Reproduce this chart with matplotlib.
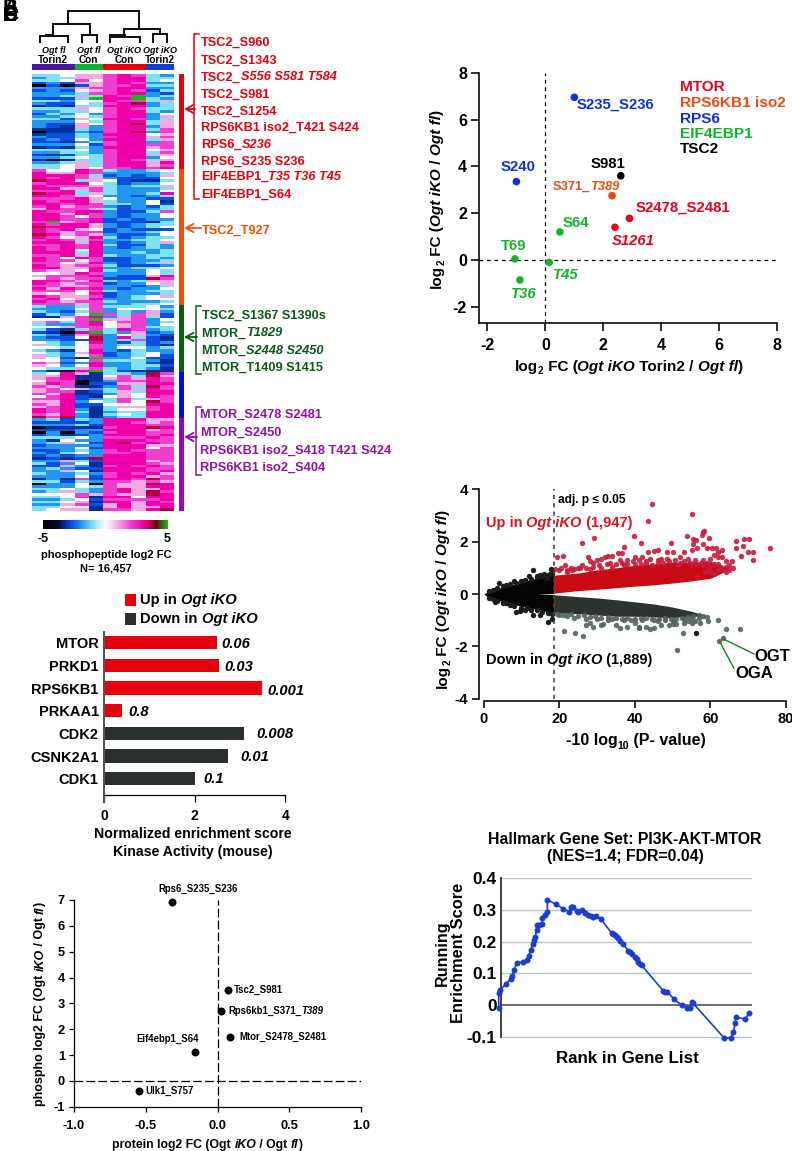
import re
import numpy as np
import matplotlib
matplotlib.use('Agg')
import matplotlib.pyplot as plt
from matplotlib.colors import LinearSegmentedColormap
from matplotlib.patches import Rectangle

plt.rcParams['font.family'] = ['Liberation Sans', 'DejaVu Sans']
plt.rcParams['font.weight'] = 'bold'
plt.rcParams['axes.labelweight'] = 'bold'
plt.rcParams['axes.unicode_minus'] = False

W, H = 792, 1151

# ---------- heatmap (row strings, one digit per sample, decoded through digit_values; G = +5) ----------
digit_values = [-5, -3.2, -2.7, -1.9, -1, 0, 1, 2, 3, 3.7]
heat_red = """4456678743 3446678844 4457578845 2326678733 0202677844 3336778833 2325678724 3334778832 3346487G34
2224G88G43 4435587746 3225478934 1214488834 4446578744 3344578843 2435378835 3345478836 4426588734
3335478846 3226578946 3216378836 1114378847 0113278937 1224388856 3224378867 2325388846 2213478837
3335278877 1214388867 4445378856 3344378847 2124478866 3345478835 1014478746 3346478868 4456478867
4456577878""".split()
heat_orange = """7558743345 8668733334 8887423236 8787632225 9884652114 7888542335 8777643446 8866743334 7784743335
9884643348 8876533234 7778653322 8788643351 8878744352 7867732324 6877642334 8778832247 8868732335
8875732335 8877823233 7G67822214 8788632344 9888632345 8786523222 8767723345 9867632235 8756842344
7874733445 8886832346 7787842243 8787832343 8785833334 8884833434 7786843344 8758722343 8775722334
7756832346 8767742223 8866833445 7665843354 5568733354 6777832268 5767722297 8876843466 8767723356
7766733234 8687832335 7775743344 6565823334 8766723456 7856833455 8767743334 7776733445""".split()
heat_green = """4334744453 3335735554 4324734363 2435G74762 1167836742 5557G66735 6747857734 4337856735 5567756744
4214748734 2108G43623 4316835632 3225938421 3322934721 5435832423 6435734421 5545735534 4315832433
5436823453 6435723452 6521G33522 5535744431 7623833421 6535833442 5446743431 3108G42111""".split()
heat_blue = """4586144397 6681157496 6781167687 5770137787 6870226688 7671137497 6756347687 6771246488 7681136588
5782156587 7782347467 6683547597 7682255588 6782146678 8783145578 8784134488 7683145488 9793134488""".split()
heat_purple = """3424388866 2222388767 3334288877 0111178898 2223388867 0303278877 2312388878 4445377787 3153388877
3465289787 2333388866 3335288857 2234378777 3245377877 2323388877 1212988877 3364288867 4235188876
2263178787 3432288877 3365188878 4334378786 3335278867 1317288797 4424377676 0335076698 3335476688
4454378668 3464378697 5557676698 4457188588 3345277778 4456188687 3367268688 4455168668 4566177689""".split()
heat_rows = heat_red + heat_orange + heat_green + heat_blue + heat_purple
cluster_sizes = [len(heat_red), len(heat_orange), len(heat_green), len(heat_blue), len(heat_purple)]
cluster_colors = ['#e8000c', '#f05008', '#0a6010', '#0808e0', '#9a08b0']

sample_groups = [('*Ogt fl*', 'Torin2', 3, '#4a1a9e'), ('*Ogt fl*', 'Con', 2, '#10b030'),
                 ('*Ogt iKO*', 'Con', 3, '#e8000c'), ('*Ogt iKO*', 'Torin2', 2, '#1040d0')]

red_labels = ['TSC2_S960', 'TSC2_S1343', 'TSC2_*S556 S581 T584*', 'TSC2_S981', 'TSC2_S1254',
              'RPS6KB1 iso2_T421 S424', 'RPS6_*S236*', 'RPS6_S235 S236', 'EIF4EBP1_*T35 T36 T45*', 'EIF4EBP1_S64']
green_labels = ['TSC2_S1367 S1390s', 'MTOR_*T1829*', 'MTOR_*S2448 S2450*', 'MTOR_T1409 S1415']
purple_labels = ['MTOR_S2478 S2481', 'MTOR_S2450', 'RPS6KB1 iso2_S418 T421 S424', 'RPS6KB1 iso2_S404']

# ---------- phospho scatter ----------
fc_labels = ['S235_S236', 'S240', 'S981', 'S371_*T389*', 'S2478_S2481', '*S1261*', 'S64', 'T69', '*T45*', '*T36*']
fc_torin = [1.0, -1.0, 2.6, 2.3, 2.9, 2.4, 0.5, -1.05, 0.13, -0.88]
fc_ctrl = [6.95, 3.35, 3.6, 2.75, 1.78, 1.4, 1.2, 0.05, -0.1, -0.85]
fc_groups = ['RPS6', 'RPS6', 'TSC2', 'RPS6KB1 iso2', 'MTOR', 'MTOR', 'EIF4EBP1', 'EIF4EBP1', 'EIF4EBP1', 'EIF4EBP1']
group_colors = {'MTOR': '#e8001c', 'RPS6KB1 iso2': '#f04a10', 'RPS6': '#1030e0', 'EIF4EBP1': '#10b428', 'TSC2': '#000000'}

# ---------- volcano ----------
ns_x = [0, 1, 3, 5, 8, 11, 14, 16, 18.5]
ns_up = [0.0, .08, .18, .26, .38, .5, .6, .68, .75]
ns_lo = [0.0, -.1, -.2, -.28, -.4, -.5, -.58, -.65, -.72]
up_x = [18.5, 25, 30, 35, 40, 45, 50, 55, 60, 63, 65]
up_hi = [.72, .8, .92, 1.0, 1.1, 1.15, 1.22, 1.22, 1.25, 1.1, .95]
up_lo = [.03, .13, .18, .24, .3, .35, .42, .5, .6, .8, .93]
dn_x = [18.5, 25, 30, 35, 40, 45, 50, 55, 58]
dn_hi = [-.03, -.1, -.15, -.22, -.3, -.38, -.5, -.66, -.8]
dn_lo = [-.72, -.75, -.8, -.85, -.85, -.88, -.9, -.85, -.84]
up_pts = [(44.6,3.45),(55,3.07),(43.4,2.8),(29.2,2.13),(25.9,1.94),(39.8,2.2),(41.5,1.94),(53.9,2.2),(55.5,2.1),
          (56.2,2.05),(55.5,1.9),(58.2,2.4),(58,2.35),(57.8,2.25),(59.5,2.15),(66.9,2.03),(69,2.12),(70.3,2.12),
          (68.5,1.85),(66.9,1.75),(75.8,1.76),(71.3,1.62),(71.2,1.3),(70,1.6),(68,1.45),(65.8,1.25),(65,1.1),
          (62,1.6),(63,1.7),(61.5,1.75),(60.5,1.75),(59,1.75),(58,1.9),(56.5,1.75),(55,1.7),(53,1.6),(50,1.6),
          (49.5,1.95),(48.5,1.6),(46,1.7),(45,1.65),(43.5,1.6),(37,1.8),(36.5,1.55),(35.5,1.55),(34,1.45),(33,1.45),
          (32,1.4),(31,1.35),(30,1.3),(27.5,1.42),(26,1.1),(25,1.0),(21,1.45),(19.5,1.42),(21.5,1.1),(23,1.0),
          (24,.95),(28,1.25),(29,1.2),(36,1.3),(38,1.3),(40,1.4),(41,1.3),(42,1.4),(44,1.35),(47,1.35),(52,1.4),
          (54,1.35),(56,1.3),(58,1.3),(60,1.35),(61,1.5),(62,1.4),(63,1.4),(64,1.25),(62,1.15),(60,1.1),(58,1.1),
          (55,1.15),(52,1.2),(49,1.25),(46,1.2),(43,1.2),(40,1.15),(37,1.1),(34,1.05),(31,1.0),(28,.95),(62,.9),
          (64,.85),(66,1.0),(60,.85),(20,.9),(22,.85),
          (19,.95),(20.5,1.0),(22,.92),(23.5,.9),(25.5,.98),(27,1.0),(29,1.02),(30.5,1.1),(32.5,1.15),(33.5,1.2),(35,1.15),
          (36.5,1.2),(38,1.15),(39.5,1.25),(41.5,1.15),(43,1.25),(44.5,1.1),(46,1.3),(47.5,1.2),(48.5,1.35),(50.5,1.3),
          (51.5,1.1),(53,1.25),(54.5,1.2),(56,1.15),(57.5,1.2),(59,1.2),(61,1.15),(62.5,1.05),(63.5,.95),(64,1.05),(65,.9),
          (59.5,.95),(61,.75),(58.5,.85),(56.5,.7)]
dn_pts = [(21.2,-1.42),(24.1,-1.48),(26.2,-1.6),(51.1,-2.14),(67.7,-1.35),(64.2,-1.35),(62,-1.0),(63.2,-1.7),(62.3,-1.78),
          (52.7,-1.48),(59,-.87),(59.4,-1.02),(57.2,-1.1),(28,-1.1),(27,-1.2),(29,-1.25),(31,-1.2),(31.5,-1.15),(33,-1.0),
          (35,-1.2),(36,-1.3),(38,-1.25),(40,-1.1),(41,-1.25),(41,-1.3),(43,-1.25),(44,-1.35),(45,-1.3),(46,-1.05),(47,-1.2),
          (49,-1.2),(50,-1.15),(51,-1.15),(53,-1.1),(54,-1.05),(55,-1.1),(56,-1.05),(55,-.95),(57,-.9),(58,-.85),(53,-.95),
          (50,-1.05),(48,-1.0),(45,-1),(42,-1),(39,-1),(37,-1),(34,-.95),(30,-.95),(27,-.95),(24,-.9),(22,-.85),(20,-.8),
          (19.5,-.78),(21,-.82),(23,-.78),(25,-.85),(26.5,-.82),(28,-.88),(29.5,-.85),(31,-.9),(33,-.88),(35,-.92),(36.5,-.95),
          (38,-.9),(40,-.95),(41.5,-.92),(43,-.92),(44.5,-.95),(46.5,-.95),(48,-.9),(49.5,-.95),(51,-.95),(52.5,-.9),(54,-.88),
          (55.5,-.85),(57,-.8)]
ns_pts = [(56.3,-1.48),(13,.9),(4,.42),(8,.5),(12,.68),(15,.72),(17.8,.95),(18,.85),(17.5,.75),(16.8,.62),(17,-1.07),(18,-.95),
          (8.5,-.7),(9.5,-.65),(13,-.8),(15,-.8),(3,-.3),(5,-.35),(11,-.6),(14,.7),(16,.78),
          (1.5,.12),(2.5,.17),(3.5,.24),(5,.3),(6,.33),(7,.38),(8.5,.42),(10,.5),(11,.55),(12.5,.58),(14,.65),(15.5,.68),(17,.72),(18,.78),
          (1.5,-.14),(2.5,-.2),(3.5,-.26),(5,-.32),(6,-.36),(7,-.42),(8,-.45),(10,-.52),(11.5,-.55),(12.5,-.6),(14,-.62),(15.5,-.7),(17,-.72),(18,-.75)]
threshold = 18.5
ogt = (63.2, -1.7)
oga = (62.3, -1.78)

# ---------- kinase bars ----------
kinases = ['MTOR', 'PRKD1', 'RPS6KB1', 'PRKAA1', 'CDK2', 'CSNK2A1', 'CDK1']
nes = [2.48, 2.54, 3.49, 0.39, 3.08, 2.74, 2.0]
fdr = ['0.06', '0.03', '0.001', '0.8', '0.008', '0.01', '0.1']
direction = ['up', 'up', 'up', 'up', 'down', 'down', 'down']

# ---------- protein vs phospho ----------
pp_names = ['Rps6_S235_S236', 'Tsc2_S981', 'Rps6kb1_S371_*T389*', 'Mtor_S2478_S2481', 'Eif4ebp1_S64', 'Ulk1_S757']
pp_protein = [-.32, .07, .025, .09, -.16, -.55]
pp_phospho = [6.93, 3.52, 2.7, 1.7, 1.12, -.4]

# ---------- GSEA ----------
rank = [-.9,-.9,-.4,2,3.9,4.4,5.2,6.3,8.9,10.5,11,11.8,12.9,13.3,13.7,14.2,14.5,15.2,16.2,16.5,17.6,18.5,18.5,21.8,24.9,
        27.3,27.8,28.2,28.6,30.3,30.9,32.2,33.6,34.8,35.8,36.8,37.9,39.8,44.1,44.8,45.5,46.2,46.8,47.6,48.5,50.8,51.5,52.1,
        53.5,54.2,54.8,55.5,56.1,64.8,65.6,66.4,69.1,72.1,74.1,75.4,76.3,76.7,89,91.6,92.7,93.4,93.6,97.3,99.1]
es = [-.008,.039,.047,.067,.083,.091,.11,.133,.136,.143,.156,.173,.194,.205,.215,.238,.253,.254,.255,.274,.285,.295,.332,.319,.303,
      .295,.309,.31,.309,.296,.295,.301,.29,.283,.28,.277,.28,.272,.227,.224,.222,.216,.212,.203,.194,.172,.166,.161,
      .152,.144,.135,.13,.125,.044,.042,.041,.018,-.001,-.008,-.01,.01,.005,-.104,-.104,-.084,-.058,-.037,-.045,-.024]

# ---------- helpers ----------
fig = plt.figure(figsize=(W / 100, H / 100), dpi=100)
rend = fig.canvas.get_renderer()


def mk(l, t, r, b, **kw):
    return fig.add_axes([l / W, 1 - b / H, (r - l) / W, (b - t) / H], **kw)


ov = mk(0, 0, W, H, zorder=20)
ov.set_xlim(0, W)
ov.set_ylim(H, 0)
ov.axis('off')
ov.patch.set_alpha(0)
_w = {}


def tw(s, size, style):
    key = (s, size, style)
    if key not in _w:
        a = ov.text(0, 0, 'x' + s + 'x', fontsize=size, fontstyle=style)
        b = ov.text(0, 0, 'xx', fontsize=size, fontstyle=style)
        _w[key] = a.get_window_extent(rend).width - b.get_window_extent(rend).width
        a.remove()
        b.remove()
    return _w[key]


def runs(x, y, s, size, color='k', rot=0, ha='left'):
    parts = [p for p in re.split(r'(\*[^*]+\*|~[^~]+~)', s) if p]
    items = []
    for p in parts:
        if p[0] == '*':
            items.append((p[1:-1], size, 'italic', 0))
        elif p[0] == '~':
            items.append((p[1:-1], size * .65, 'normal', size * .33))
        else:
            items.append((p, size, 'normal', 0))
    total = sum(tw(t, z, st) for t, z, st, _ in items)
    shift = {'left': 0, 'center': total / 2, 'right': total}[ha]
    pos = -shift
    for t, z, st, off in items:
        if rot == 90:
            px, py = x + off, y - pos
        else:
            px, py = x + pos, y + off
        ov.text(px, py, t, fontsize=z, fontstyle=st, color=color, rotation=rot,
                rotation_mode='anchor', ha='left', va='baseline')
        pos += tw(t, z, st)


def style(ax, lw=1.1, tick=4.5, size=11, pad=3, color='k'):
    for s in ('top', 'right'):
        ax.spines[s].set_visible(False)
    for s in ('left', 'bottom'):
        ax.spines[s].set_linewidth(lw)
        ax.spines[s].set_color(color)
    ax.tick_params(width=lw, length=tick, labelsize=size, pad=pad, color=color)
    ax.patch.set_alpha(0)


# ---------- panel letters overlapped at the corner ----------
for letter, (lx, ly) in zip('ABCDEF', [(3, 13), (3, 13), (3, 21), (3, 21), (3, 21), (3, 21)]):
    ov.text(lx, ly, letter, fontsize=15, color='k', ha='left', va='baseline')

# ---------- heatmap ----------
cmap = LinearSegmentedColormap.from_list('heat', [
    (0.0, '#000000'), (0.12, '#000a30'), (0.22, '#0a48e0'), (0.3, '#1890f0'), (0.4, '#80e0f4'), (0.5, '#ffffff'),
    (0.6, '#f4a8e4'), (0.7, '#f040d0'), (0.8, '#f000a8'), (0.87, '#b00040'), (0.91, '#601010'), (1.0, '#10c010')])
heat = np.array([[5 if c == 'G' else digit_values[int(c)] for c in row] for row in heat_rows], dtype=float)
hax = mk(32, 74, 174, 511)
im = hax.imshow(heat, cmap=cmap, vmin=-5, vmax=5, aspect='auto', interpolation='nearest')
hax.axis('off')

# group strip above and cluster strip beside
gax = mk(32, 64, 174, 70)
gax.set_xlim(0, 10)
gax.set_ylim(0, 1)
gax.axis('off')
left = 0
for top, bot, n, col in sample_groups:
    gax.add_patch(Rectangle((left, 0), n, 1, color=col, lw=0))
    runs(32 + (left + n / 2) * 14.2, 53, top, 6.5, ha='center')
    runs(32 + (left + n / 2) * 14.2, 62.5, bot, 7.2, ha='center')
    left += n

cax = mk(179, 74, 184, 511)
cax.set_ylim(sum(cluster_sizes), 0)
cax.set_xlim(0, 1)
cax.axis('off')
start = 0
for n, col in zip(cluster_sizes, cluster_colors):
    cax.bar(.5, n, bottom=start, width=1, color=col, lw=0)
    start += n

# dendrogram
dendro = [((68, 139), (11, 11)), ((68, 68), (11, 24)), ((139, 139), (11, 29)),
          ((53, 90), (24, 24)), ((53, 53), (24, 36)), ((90, 90), (24, 35)),
          ((40, 68), (36, 36)), ((40, 40), (36, 42)), ((68, 68), (36, 42)), ((46, 53), (35, 35)),
          ((82, 97), (35, 35)), ((82, 82), (35, 42)), ((97, 97), (35, 42)),
          ((124, 160), (29, 29)), ((124, 124), (29, 37)), ((160, 160), (29, 34)),
          ((110, 140), (37, 37)), ((110, 110), (36, 42)), ((125, 125), (35, 37)), ((140, 140), (37, 42)),
          ((110, 125), (35, 35)),
          ((153, 167), (34, 34)), ((153, 153), (34, 42)), ((167, 167), (34, 42))]
for xs, ys in dendro:
    ov.plot(xs, ys, color='#111111', lw=1.45, solid_capstyle='projecting')


def bracket(x, y0, y1, ya, col):
    ov.plot([x + 5, x, x, x + 5], [y0, y0, y1, y1], color=col, lw=1.1, solid_joinstyle='miter')
    ov.annotate('', xy=(184, ya), xytext=(x + 1, ya),
                arrowprops=dict(arrowstyle='->,head_length=0.55,head_width=0.3', color=col, lw=1.3,
                                shrinkA=0, shrinkB=0))


bracket(194, 34, 199, 109, '#e8000c')
for lab, yc in zip(red_labels, [41, 58.7, 75.7, 92.7, 110, 126, 143, 160, 175.5, 192.7]):
    runs(201, yc + 4.6, lab, 9.2, '#e8000c')
ov.annotate('', xy=(184, 228), xytext=(201, 228),
            arrowprops=dict(arrowstyle='->,head_length=0.55,head_width=0.3', color='#f05008', lw=1.3, shrinkA=0, shrinkB=0))
runs(202, 233.5, 'TSC2_T927', 9.2, '#f05008')
bracket(196, 306, 374, 337, '#0a5a14')
for lab, yc in zip(green_labels, [314.3, 331.7, 349, 366]):
    runs(201.5, yc + 4.6, lab, 9.2, '#0a5a14')
bracket(196, 407, 475, 437, '#9010a8')
for lab, yc in zip(purple_labels, [413.3, 430.7, 449.3, 466]):
    runs(200, yc + 4.6, lab, 9.2, '#9010a8')

cbax = mk(42.7, 520, 168.3, 529.3)
cb = fig.colorbar(im, cax=cbax, orientation='horizontal')
cb.outline.set_visible(False)
cb.set_ticks([])
runs(43, 542, '-5', 9, ha='center')
runs(167, 542, '5', 9, ha='center')
runs(106, 557.7, 'phosphopeptide log2 FC', 8, ha='center')
runs(106, 571.7, 'N= 16,457', 8, ha='center')

# ---------- phospho scatter ----------
ax = mk(478.7, 72.7, 777.3, 323.3)
ax.set_xlim(-2.3, 8)
ax.set_ylim(-2.7, 8)
style(ax, lw=1.15, tick=5.5, size=11.5, pad=5)
ax.tick_params(axis='y', pad=3)
ax.set_xticks([-2, 0, 2, 4, 6, 8])
ax.set_yticks([-2, 0, 2, 4, 6, 8])
ax.axvline(0, color='k', lw=.9, dashes=(3, 3))
ax.axhline(0, color='k', lw=.9, dashes=(3, 3))
ax.scatter(fc_torin, fc_ctrl, s=30, c=[group_colors[g] for g in fc_groups], lw=0, zorder=3, clip_on=False)
fc_pos = [(577, 109, 10.7), (501, 170.7, 10.7), (591, 167.7, 10.7), (552.7, 190, 9.3), (636, 212, 10.7), (611.7, 245, 10.7),
          (562.7, 227, 10.7), (501, 250, 10.7), (553, 279, 10.7), (511, 298, 10.7)]
for lab, g, (px, py, z) in zip(fc_labels, fc_groups, fc_pos):
    runs(px, py, lab, z, group_colors[g])
for (g, col), py in zip(group_colors.items(), [90.7, 106.7, 122.7, 137.7, 153.3]):
    runs(680, py, g, 11.1, col)
runs(515, 370.7, 'log~2~ FC (*Ogt iKO* Torin2 / *Ogt fl*)', 11)
runs(441, 288, 'log~2~ FC (*Ogt iKO* / *Ogt fl*)', 11, rot=90)

# ---------- volcano ----------
vx0, vsx = 483.7, 3.78
ax = mk(479.3, 489.3, 786, 700.7)
ax.set_xlim(-(vx0 - 479.3) / vsx, 80)
ax.set_ylim(-4 - 2 / 26.2, 4)
style(ax, lw=1.15, tick=5, size=10.5, pad=3)
ax.tick_params(axis='y', labelsize=11)
ax.spines['left'].set_bounds(-4, 4)
ax.spines['bottom'].set_bounds(0, 80)
ax.set_xticks([0, 20, 40, 60, 80])
ax.set_yticks([-4, -2, 0, 2, 4])
ax.fill_between(ns_x, ns_lo, ns_up, color='#050505', lw=0)
ax.fill_between(up_x, up_lo, up_hi, color='#c80a14', lw=0)
ax.fill_between(dn_x, dn_lo, dn_hi, color='#2d332e', lw=0)
ax.fill_between([14, 18.5], [0, -.02], [0, .02], color='white', lw=0, zorder=2)
ax.scatter(*zip(*up_pts), s=15, color='#c81a3c', alpha=.9, lw=0, zorder=3)
ax.scatter(*zip(*dn_pts), s=15, color='#53635c', alpha=.9, lw=0, zorder=3)
ax.scatter(*zip(*ns_pts), s=15, color='#1a1f1c', lw=0, zorder=3)
ax.axvline(threshold, ymin=0.01, color='#444444', lw=1.2, dashes=(2.5, 2.5), zorder=4)
ax.plot([ogt[0], 71.5], [ogt[1], -2.29], color='#108a10', lw=1)
ax.plot([oga[0], 66.2], [oga[1], -2.83], color='#108a10', lw=1)
runs(558.3, 503, 'adj. p ≤ 0.05', 8.6)
runs(485.7, 526.7, 'Up in *Ogt iKO* (1,947)', 10.5, '#e0101c')
runs(485.7, 664, 'Down in *Ogt iKO* (1,889)', 10.5)
runs(754, 661, 'OGT', 12)
runs(735, 678.3, 'OGA', 12)
runs(566, 745, '-10 log~10~ (P- value)', 11.5)
runs(446.7, 688, 'log~2~ FC (*Ogt iKO* / *Ogt fl*)', 11, rot=90)

# ---------- kinase bars ----------
ax = mk(104.3, 632, 285.3, 795)
ax.set_xlim(0, 4)
n = len(kinases)
ax.set_ylim(n - 1 + (795 - 778.8) / 22.7, -(642.7 - 632) / 22.7)
style(ax, lw=.9, tick=4.8, size=10, pad=5.5)
ax.spines['left'].set_linewidth(1.5)
ax.spines['left'].set_color('#555555')
ax.spines['left'].set_bounds(n - 1 + (801.7 - 778.8) / 22.7, -(642.7 - 632) / 22.7)
ax.spines['left'].set_clip_on(False)
ax.spines['bottom'].set_zorder(5)
ax.barh(range(n), nes, height=.585, color=['#e8000c' if d == 'up' else '#2a302c' for d in direction], lw=0)
ax.set_xticks([0, 2, 4])
ax.set_yticks(range(n))
ax.set_yticklabels(kinases, fontsize=10.5)
ax.tick_params(axis='y', length=0, pad=4)
for lab, (px, py) in zip(fdr, [(221.3, 648), (224, 670.7), (267.7, 695), (128.3, 715.7), (256, 737.7), (240, 760.7), (203.3, 782.7)]):
    runs(px, py, '*' + lab + '*', 10.6)
ov.add_patch(Rectangle((125, 594), 11, 12, color='#e8000c', lw=0))
ov.add_patch(Rectangle((125, 613.3), 11, 11.7, color='#2a302c', lw=0))
runs(140, 604.3, 'Up in *Ogt iKO*', 10.6)
runs(140, 623.3, 'Down in *Ogt iKO*', 10.6)
runs(192.7, 838.3, 'Normalized enrichment score', 10.2, ha='center')
runs(192.7, 856, 'Kinase Activity (mouse)', 10.2, ha='center')

# ---------- protein vs phospho ----------
ax = mk(74, 900, 361, 1106.7)
ax.set_xlim(-1, 1)
ax.set_ylim(-1, 7)
style(ax, lw=.9, tick=3.5, size=9.3, pad=3)
ax.set_xticks([-1, -.5, 0, .5, 1])
ax.set_xticklabels(['-1.0', '-0.5', '0.0', '0.5', '1.0'])
ax.set_yticks(range(-1, 8))
ax.tick_params(axis='x', pad=6)
ax.axvline(0, color='k', lw=.9, dashes=(7, 2.5))
ax.axhline(0, color='k', lw=.9, dashes=(7, 2.5))
ax.scatter(pp_protein, pp_phospho, s=33, color='k', lw=0, zorder=3, clip_on=False)
for lab, (px, py) in zip(pp_names, [(158.7, 892.3), (234.3, 992.7), (228.3, 1014.3), (239, 1039.7), (136, 1042.3), (145.7, 1094.3)]):
    runs(px, py, lab, 6.9)
runs(112.3, 1148, 'protein log2 FC (Ogt *iKO* / Ogt *fl*)', 8.8)
runs(43.3, 1106, 'phospho log2 FC (Ogt *iKO* / Ogt *fl*)', 9, rot=90)

# ---------- GSEA ----------
ax = mk(501, 878.3, 751.7, 1040)
ax.set_xlim(0, 100)
ax.set_ylim(-.1104, .4)
style(ax, lw=1.3, tick=0, size=12.5, pad=3, color='#333333')
ax.spines['bottom'].set_visible(False)
ax.spines['left'].set_bounds(-.1, .4)
ax.set_xticks([])
ax.set_yticks([-.1, 0, .1, .2, .3, .4])
ax.set_yticklabels(['-0.1', '0', '0.1', '0.2', '0.3', '0.4'])
for gy in [-.1, .1, .2, .3, .4]:
    ax.axhline(gy, color='#b4c8c0', lw=1, zorder=1)
ax.axhline(0, color='#444444', lw=1.1, zorder=1)
ax.plot(rank, es, color='#1a3ed0', lw=1.2, marker='o', ms=4.3, mew=0, clip_on=False, zorder=3)
runs(625, 844, 'Hallmark Gene Set: PI3K-AKT-MTOR', 11.4, ha='center')
runs(625, 860.7, '(NES=1.4; FDR=0.04)', 11.4, ha='center')
runs(447, 953, 'Running', 11.6, rot=90, ha='center')
runs(463, 953, 'Enrichment Score', 11.8, rot=90, ha='center')
runs(627.3, 1063, 'Rank in Gene List', 12.2, ha='center')

fig.savefig('out.png', dpi=100)
